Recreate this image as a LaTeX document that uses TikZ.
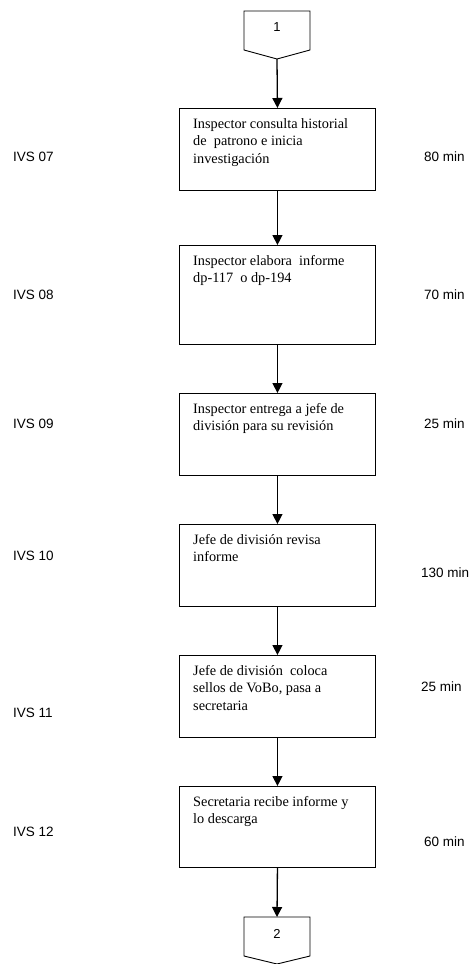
\documentclass[tikz,border=0pt]{standalone}
\usepackage{fontspec}
\setmainfont{Liberation Serif}
\newfontfamily\arialf{Liberation Sans}
\usetikzlibrary{arrows.meta}
\newcommand{\boxlines}[1]{\begin{tabular}[t]{@{}l@{}}#1\end{tabular}}
\begin{document}
\begin{tikzpicture}[x=1pt,y=-1pt,
  procbox/.style={draw=black,line width=0.9pt,minimum width=196pt,inner sep=0pt,anchor=north west},
  boxtext/.style={anchor=base west,inner sep=0pt,font=\fontsize{14.3}{17.3}\selectfont},
  sidelabel/.style={anchor=west,inner sep=0pt,font=\arialf\fontsize{13.5}{16}\selectfont},
  conn/.style={draw=black,line width=0.9pt,line join=miter},
  flow/.style={draw=black,line width=1.3pt,-{Triangle[length=10pt,width=10pt]}},
  conntext/.style={inner sep=0pt,font=\arialf\fontsize{13}{15}\selectfont}]
\useasboundingbox (0,0) rectangle (475,964);
% top connector
\draw[conn] (244,11) -- (310,11) -- (310,50) -- (277,59) -- (244,50) -- cycle;
\coordinate (c1tip) at (277,59);
\node[conntext] (c1) at (277,27) {1};
% boxes
\node[procbox,minimum height=82pt] (b1) at (179,108) {};
\node[procbox,minimum height=99pt] (b2) at (179,245) {};
\node[procbox,minimum height=82pt] (b3) at (179,393) {};
\node[procbox,minimum height=82pt] (b4) at (179,524) {};
\node[procbox,minimum height=82pt] (b5) at (179,655) {};
\node[procbox,minimum height=81pt] (b6) at (179,786) {};
% box texts
\node[boxtext] (t1) at (193,128.5) {\boxlines{Inspector consulta historial\\de\ \ patrono e inicia\\investigación}};
\node[boxtext] (t2) at (193,265.5) {\boxlines{Inspector elabora\ \ informe\\dp-117\ \ o dp-194}};
\node[boxtext] (t3) at (193,413.5) {\boxlines{Inspector entrega a jefe de\\división para su revisión}};
\node[boxtext] (t4) at (193,544.5) {\boxlines{Jefe de división revisa\\informe}};
\node[boxtext] (t5) at (193,675.5) {\boxlines{Jefe de división\ \ coloca\\sellos de VoBo, pasa a\\secretaria}};
\node[boxtext] (t6) at (193,806.5) {\boxlines{Secretaria recibe informe y\\lo descarga}};
% bottom connector
\draw[conn] (244,917) -- (310,917) -- (310,956) -- (277,964) -- (244,956) -- cycle;
\coordinate (c2top) at (277,917);
\node[conntext] (c2) at (277,934) {2};
% arrows
\draw[flow] (c1tip) -- (b1.north);
\draw[flow] (b1.south) -- (b2.north);
\draw[flow] (b2.south) -- (b3.north);
\draw[flow] (b3.south) -- (b4.north);
\draw[flow] (b4.south) -- (b5.north);
\draw[flow] (b5.south) -- (b6.north);
\draw[flow] (b6.south) -- (c2top);
% side labels
\node[sidelabel] (l1) at (13,157) {IVS 07};
\node[sidelabel] (l2) at (13,295) {IVS 08};
\node[sidelabel] (l3) at (13,424) {IVS 09};
\node[sidelabel] (l4) at (13,556) {IVS 10};
\node[sidelabel] (l5) at (13,713) {IVS 11};
\node[sidelabel] (l6) at (13,832) {IVS 12};
\node[sidelabel] (m1) at (424,157) {80 min};
\node[sidelabel] (m2) at (424,295) {70 min};
\node[sidelabel] (m3) at (424,424) {25 min};
\node[sidelabel] (m4) at (421,573) {130 min};
\node[sidelabel] (m5) at (421,687) {25 min};
\node[sidelabel] (m6) at (424,842) {60 min};
\end{tikzpicture}
\end{document}
